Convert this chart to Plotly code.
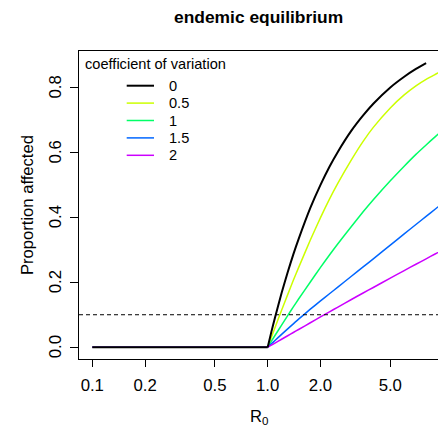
import plotly.graph_objects as go

# ---- data ----
r0 = [0.1, 1.0, 1.05, 1.1, 1.2, 1.3, 1.4, 1.5, 1.75, 2.0, 2.25, 2.5, 3.0, 3.5, 4.0, 5.0, 6.0, 7.0, 8.0, 9.0, 10.0]
cv_labels = ["0", "0.5", "1", "1.5", "2"]
prop_cv0 = [0, 0, 0.048, 0.091, 0.167, 0.231, 0.286, 0.333, 0.429, 0.500, 0.556, 0.600, 0.667, 0.714, 0.750, 0.800, 0.833, 0.857, 0.875]
prop_cv05 = [0, 0, 0.031, 0.060, 0.114, 0.162, 0.206, 0.245, 0.330, 0.399, 0.456, 0.503, 0.577, 0.634, 0.677, 0.737, 0.777, 0.805, 0.825, 0.840, 0.853]
prop_cv1 = [0, 0, 0.0186, 0.036, 0.068, 0.0975, 0.124, 0.1485, 0.201, 0.246, 0.284, 0.317, 0.372, 0.417, 0.454, 0.5125, 0.5575, 0.594, 0.623, 0.648, 0.670]
prop_cv15 = [0, 0, 0.0106, 0.0207, 0.0394, 0.0564, 0.072, 0.0864, 0.1172, 0.1427, 0.1647, 0.1844, 0.2185, 0.2473, 0.2722, 0.3144, 0.3489, 0.378, 0.403, 0.425, 0.4445]
prop_cv2 = [0, 0, 0.0066, 0.0128, 0.0246, 0.0353, 0.0453, 0.0546, 0.0754, 0.0933, 0.109, 0.123, 0.147, 0.167, 0.184, 0.2126, 0.236, 0.2555, 0.2723, 0.287, 0.300]
threshold = 0.1

x_ticks = [0.1, 0.2, 0.5, 1, 2, 5]
x_ticktext = ["0.1", "0.2", "0.5", "1.0", "2.0", "5.0"]
y_ticks = [0, 0.2, 0.4, 0.6, 0.8]
y_ticktext = ["0.0", "0.2", "0.4", "0.6", "0.8"]

colors = ["#000000", "#CCFF00", "#00FF66", "#0066FF", "#CC00FF"]
widths = [2, 1.5, 1.5, 1.5, 1.5]
series = [prop_cv0, prop_cv05, prop_cv1, prop_cv15, prop_cv2]

FONT = "Liberation Sans, Arial, Helvetica, sans-serif"

fig = go.Figure()
# flat part (R0 <= 1) drawn straight, rising part smoothed; black on top
for i in [1, 2, 3, 4, 0]:
    ys = series[i]
    xs = r0[:len(ys)]
    fig.add_trace(go.Scatter(x=xs[:2], y=ys[:2], mode="lines",
                             line=dict(color=colors[i], width=widths[i]),
                             showlegend=False, hoverinfo="skip"))
    fig.add_trace(go.Scatter(x=xs[1:], y=ys[1:], mode="lines",
                             line=dict(color=colors[i], width=widths[i], shape="spline", smoothing=0.6),
                             showlegend=False, hoverinfo="skip"))

shapes = [dict(type="line", xref="paper", x0=0, x1=1, yref="y", y0=threshold, y1=threshold,
               line=dict(color="black", width=1, dash="4px,3px"))]
annotations = []

# manual legend (R-style)
L, T = 79, 51
annotations.append(dict(text="coefficient of variation", xref="paper", yref="paper", x=0, y=1,
                        xanchor="left", yanchor="middle", xshift=82.5 - L, yshift=-(64 - T),
                        showarrow=False, font=dict(family=FONT, size=14.6, color="black")))
row_y = [85.7, 103.1, 120.5, 137.9, 155.3]
for i, lab in enumerate(cv_labels):
    shapes.append(dict(type="line", xref="paper", yref="paper", xsizemode="pixel", ysizemode="pixel",
                       xanchor=0, yanchor=1, x0=126.7 - L, x1=154 - L,
                       y0=-(row_y[i] - T), y1=-(row_y[i] - T),
                       line=dict(color=colors[i], width=widths[i])))
    annotations.append(dict(text=lab, xref="paper", yref="paper", x=0, y=1,
                            xanchor="left", yanchor="middle", xshift=167 - L, yshift=-(row_y[i] - T),
                            showarrow=False, font=dict(family=FONT, size=14.6, color="black")))

# rotated y tick labels (R style, parallel to axis)
for v, t in zip(y_ticks, y_ticktext):
    annotations.append(dict(text=t, xref="paper", yref="y", x=0, y=v, xanchor="center", yanchor="middle",
                            xshift=55 - L, textangle=-90, showarrow=False,
                            font=dict(family=FONT, size=16.8, color="black")))

# title and axis titles
annotations.append(dict(text="<b>endemic equilibrium</b>", xref="paper", yref="paper", x=0.5, y=1,
                        xanchor="center", yanchor="middle", yshift=51 - 17,
                        showarrow=False, font=dict(family=FONT, size=17.4, color="black")))
annotations.append(dict(text="R<sub>0</sub>", xref="paper", yref="paper", x=0.5, y=0,
                        xanchor="center", yanchor="middle", yshift=-(417.5 - 359.3),
                        showarrow=False, font=dict(family=FONT, size=16.6, color="black")))
annotations.append(dict(text="Proportion affected", xref="paper", yref="paper", x=0, y=0.5,
                        xanchor="center", yanchor="middle", xshift=27 - L, textangle=-90,
                        showarrow=False, font=dict(family=FONT, size=16.6, color="black")))

fig.update_layout(
    width=438, height=426,
    margin=dict(l=79, r=0, t=51, b=67),
    paper_bgcolor="white", plot_bgcolor="white",
    font=dict(family=FONT, size=16.8, color="black"),
    shapes=shapes, annotations=annotations,
    xaxis=dict(type="log", range=[-1.0758, 0.9709], tickvals=x_ticks, ticktext=x_ticktext,
               ticks="outside", ticklen=7, tickcolor="black", showline=True, linecolor="black",
               linewidth=1, mirror=True, showgrid=False, zeroline=False, automargin=False,
               ticklabelstandoff=4,
               tickfont=dict(family=FONT, size=16.8, color="black")),
    yaxis=dict(range=[-0.0363, 0.9123], tickvals=y_ticks, showticklabels=False,
               ticks="outside", ticklen=8, tickcolor="black", showline=True, linecolor="black",
               linewidth=1, showgrid=False, zeroline=False, automargin=False),
)

fig.write_html("out.html", config={"displayModeBar": False},
               post_script="document.body.style.margin='0';document.body.style.overflow='hidden';")
